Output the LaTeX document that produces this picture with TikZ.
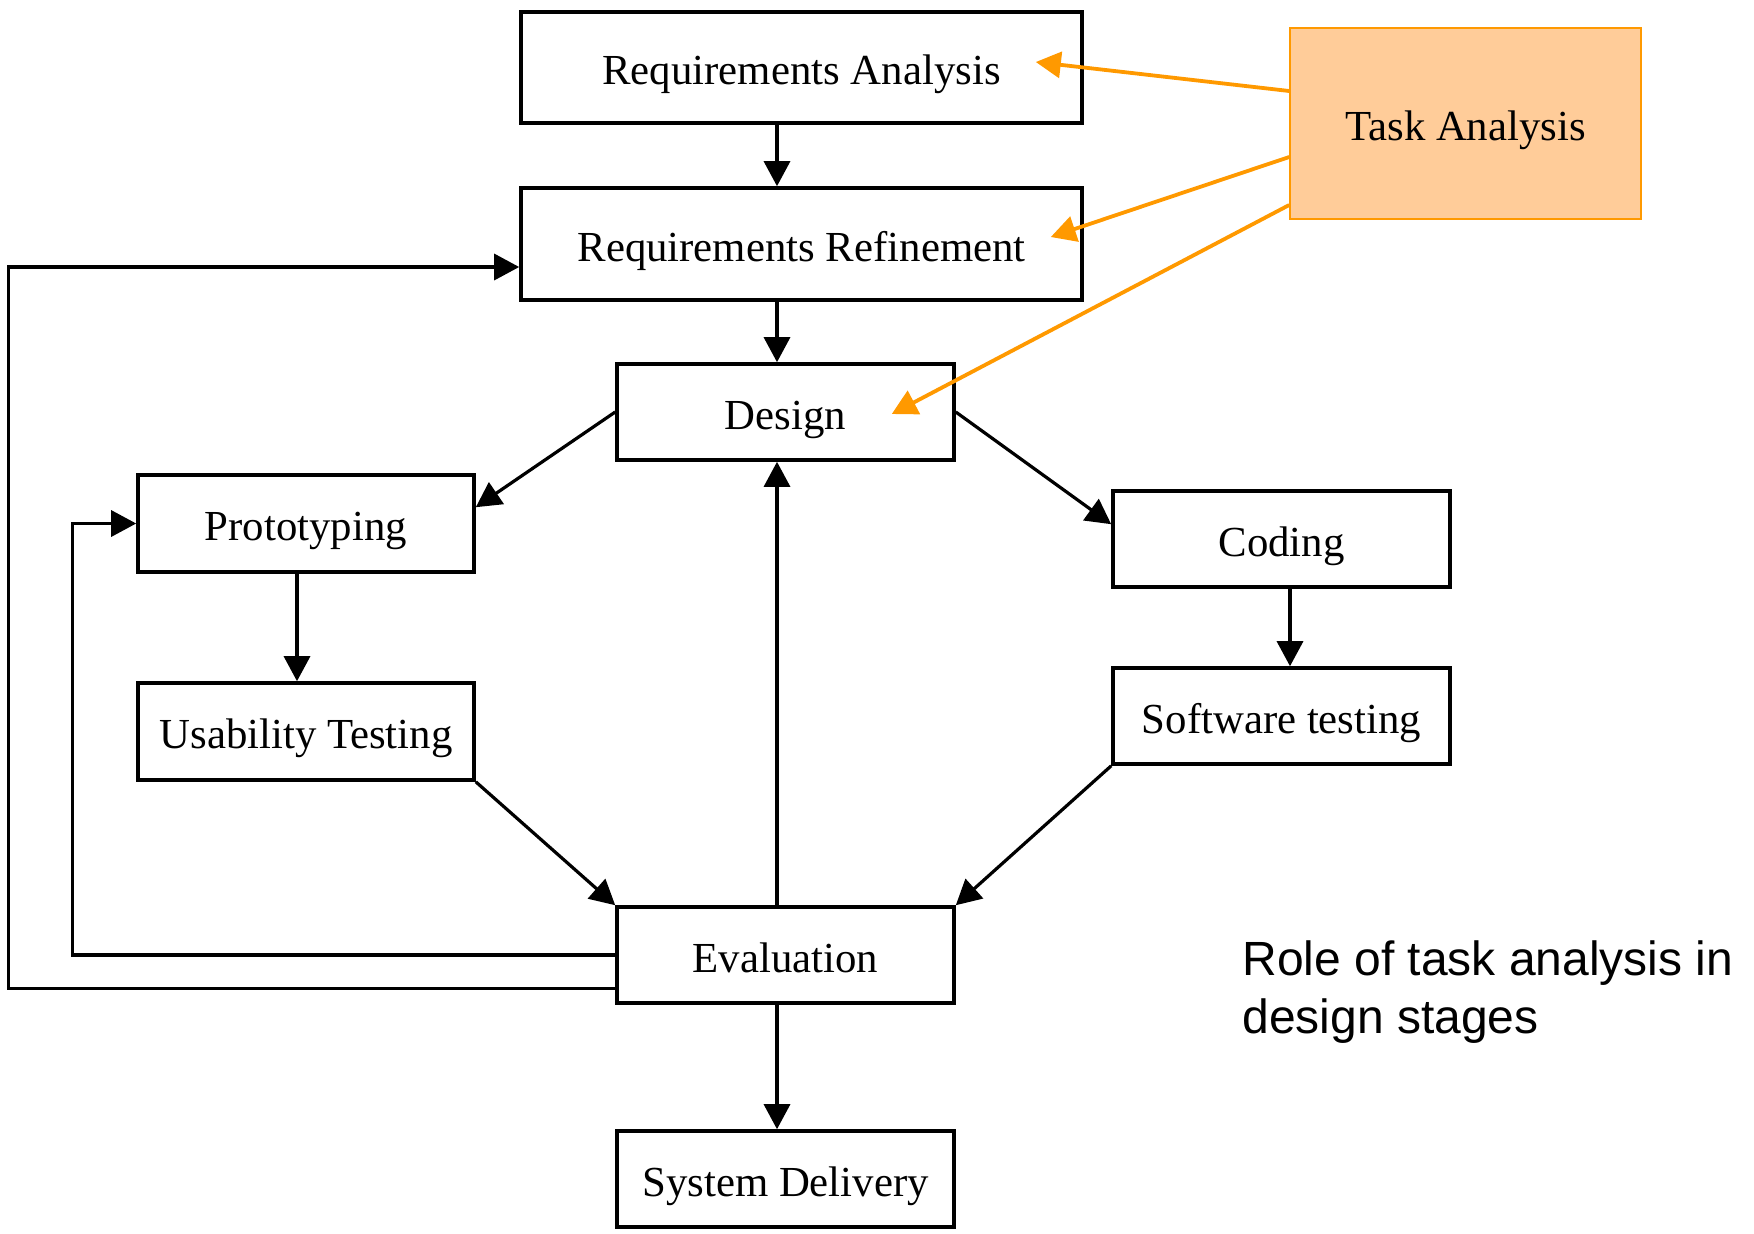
\documentclass[tikz,border=0pt]{standalone}
\usepackage{fontspec}
\setmainfont{Liberation Serif}
\newfontfamily\capfont{Liberation Sans}
\usetikzlibrary{arrows.meta,calc}
\definecolor{taorange}{RGB}{255,153,0}
\definecolor{tafill}{RGB}{255,204,153}
\begin{document}
\begin{tikzpicture}[x=0.5pt,y=-0.5pt,
  stage/.style={draw=black,line width=1.8pt,fill=white,inner sep=0pt,
    text height=17pt,text depth=0pt,
    font=\fontsize{21.4pt}{25pt}\selectfont},
  arr/.style={draw=black,line width=1.6pt,-{Triangle[length=12.5pt,width=13pt]}},
  oarr/.style={draw=taorange,line width=1.9pt,-{Triangle[length=12.5pt,width=13pt]}},
  capt/.style={anchor=base west,inner sep=0pt,font=\capfont\fontsize{24pt}{29pt}\selectfont}]
\useasboundingbox (0,0) rectangle (1754,1233);
\node[stage,minimum width=280.5pt,minimum height=55.5pt] (ra) at (801.5,67.5) {Requirements Analysis};
\node[stage,minimum width=280.5pt,minimum height=56pt] (rr) at (801.5,244) {Requirements Refinement};
\node[stage,minimum width=168.5pt,minimum height=48pt] (des) at (785.5,412) {Design};
\node[stage,minimum width=168pt,minimum height=48.5pt] (pro) at (306,523.5) {Prototyping};
\node[stage,minimum width=168pt,minimum height=48.5pt] (usa) at (306,731.5) {Usability Testing};
\node[stage,minimum width=168.5pt,minimum height=48pt] (cod) at (1281.5,539) {Coding};
\node[stage,minimum width=168.5pt,minimum height=48pt] (sof) at (1281.5,716) {Software testing};
\node[stage,minimum width=168.5pt,minimum height=48pt] (eva) at (785.5,955) {Evaluation};
\node[stage,minimum width=168.5pt,minimum height=48pt] (sys) at (785.5,1179) {System Delivery};
\node[draw=taorange,line width=0.8pt,fill=tafill,inner sep=0pt,minimum width=175.5pt,minimum height=95.5pt,
  text height=16.5pt,text depth=0pt,
  font=\fontsize{21.4pt}{25pt}\selectfont] (task) at (1465.5,123.5) {Task Analysis};
\node[capt] (cap1) at (1242,975) {Role of task analysis in};
\node[capt] (cap2) at (1242,1033) {design stages};
% main flow
\draw[arr] ([xshift=-12.25pt]ra.south) -- ([xshift=-12.25pt]rr.north);
\draw[arr] ([xshift=-12.25pt]rr.south) -- ([xshift=-4.25pt]des.north);
\draw[arr] (des.west) -- ([yshift=-17pt]pro.north east);
\draw[arr] (des.east) -- ([yshift=-17.5pt]cod.north west);
\draw[arr] ([xshift=-4.5pt]pro.south) -- ([xshift=-4.5pt]usa.north);
\draw[arr] ([xshift=4.25pt]cod.south) -- ([xshift=4.25pt]sof.north);
\draw[arr] (usa.south east) -- (eva.north west);
\draw[arr] (sof.south west) -- (eva.north east);
\draw[arr] ([xshift=-4.25pt]eva.north) -- ([xshift=-4.25pt]des.south);
\draw[arr] ([xshift=-4.25pt]eva.south) -- ([xshift=-4.25pt]sys.north);
% feedback loops
\draw[arr] (eva.west) -- ++(-543,0) |- (pro.west);
\draw[arr] ([yshift=8pt]eva.south west) -- ++(-607,0) |- ([yshift=-11.5pt]rr.west);
% task analysis arrows
\draw[oarr] ([yshift=16.25pt]task.west) -- ([xshift=-24pt,yshift=2.75pt]ra.east);
\draw[oarr] ([yshift=-16.75pt]task.west) -- ([xshift=-16.5pt,yshift=3.5pt]rr.east);
\draw[oarr] ([yshift=-40.75pt]task.west) -- ([xshift=-32pt,yshift=-1pt]des.east);
\end{tikzpicture}
\end{document}
